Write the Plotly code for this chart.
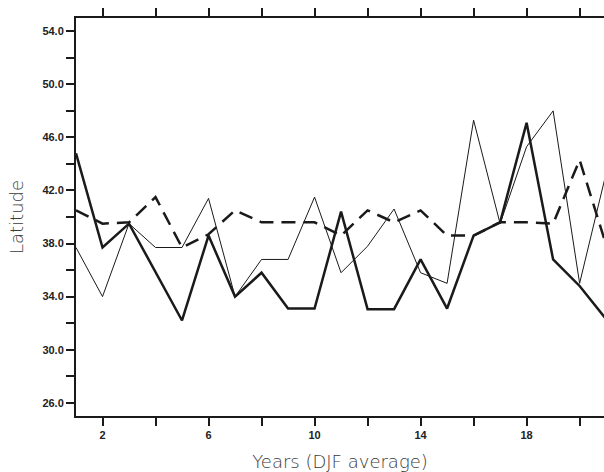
import plotly.graph_objects as go

years = list(range(1, 22))
thick_solid = [44.8, 37.7, 39.5, 35.9, 32.2, 38.6, 34.0, 35.8, 33.1, 33.1, 40.4, 33.05, 33.05,
               36.8, 33.1, 38.6, 39.6, 47.1, 36.8, 34.8, 32.3]
thin_solid = [37.7, 34.0, 39.5, 37.7, 37.7, 41.4, 34.0, 36.8, 36.8, 41.5, 35.8, 37.8, 40.6,
              35.8, 35.0, 47.3, 39.5, 45.3, 48.0, 35.0, 43.3]
dashed = [40.5, 39.5, 39.6, 41.5, 37.7, 38.7, 40.5, 39.6, 39.6, 39.6, 38.6, 40.5, 39.6,
          40.5, 38.6, 38.6, 39.6, 39.6, 39.5, 44.3, 37.9]

x_tickvals = list(range(2, 21, 2))
x_ticktext = [str(v) if v in (2, 6, 10, 14, 18) else "" for v in x_tickvals]
y_tickvals = list(range(26, 55, 2))
y_ticktext = [f"{v:.1f}" if (v - 26) % 4 == 0 else "" for v in y_tickvals]

ink = "#1a1a1a"
fig = go.Figure()
fig.add_trace(go.Scatter(x=years, y=thin_solid, mode="lines",
                         line=dict(color=ink, width=1)))
fig.add_trace(go.Scatter(x=years, y=dashed, mode="lines",
                         line=dict(color=ink, width=2.5, dash="14px,8px")))
fig.add_trace(go.Scatter(x=years, y=thick_solid, mode="lines",
                         line=dict(color=ink, width=2.5)))

tickfont = dict(family="Liberation Sans", size=11, color="#222", weight="bold")
titlefont = dict(family="DejaVu Sans", size=18, color="#3a3a3a", weight=200)

fig.update_layout(
    width=604, height=472,
    margin=dict(l=76, r=0, t=18, b=56, autoexpand=False),
    paper_bgcolor="white", plot_bgcolor="white",
    showlegend=False,
    xaxis=dict(range=[1, 20.92], tickvals=x_tickvals, ticktext=x_ticktext,
               ticks="outside", ticklen=8, tickwidth=2, tickcolor=ink,
               showline=True, linecolor=ink, linewidth=2, mirror="ticks",
               showgrid=False, zeroline=False, tickfont=tickfont, automargin=False,
               title=dict(text="Years (DJF average)", font=titlefont, standoff=16)),
    yaxis=dict(range=[25, 55], tickvals=y_tickvals, ticktext=y_ticktext,
               ticks="outside", ticklen=8, tickwidth=2, tickcolor=ink,
               showline=True, linecolor=ink, linewidth=2, automargin=False,
               showgrid=False, zeroline=False, tickfont=tickfont,
               title=dict(text="Latitude", font=titlefont, standoff=14)),
)
fig.write_html("out.html", config={"displayModeBar": False},
               post_script="document.body.style.margin='0';document.body.style.overflow='hidden';")
